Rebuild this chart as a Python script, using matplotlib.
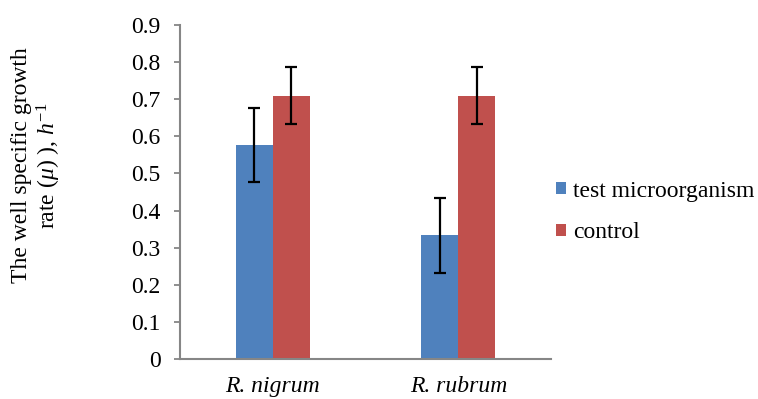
import matplotlib
matplotlib.use("Agg")
import matplotlib.pyplot as plt
import numpy as np

categories = ["R. nigrum", "R. rubrum"]
series_names = ["test microorganism", "control"]
test_vals = [0.577, 0.333]
test_err = [0.100, 0.100]
control_vals = [0.710, 0.710]
control_err = [0.076, 0.076]
yticks = [0, 0.1, 0.2, 0.3, 0.4, 0.5, 0.6, 0.7, 0.8, 0.9]
ytick_labels = ["0", "0.1", "0.2", "0.3", "0.4", "0.5", "0.6", "0.7", "0.8", "0.9"]

plt.rcParams['font.family'] = ['Liberation Serif', 'DejaVu Serif']
plt.rcParams['mathtext.fontset'] = 'custom'
plt.rcParams['mathtext.rm'] = 'Liberation Serif'
plt.rcParams['mathtext.it'] = 'Liberation Serif:italic'

FS = 17
fig = plt.figure(figsize=(7.58, 3.99), dpi=100)
ax = fig.add_axes([180/758, 40/399, 371/758, 334/399])

x = np.arange(len(categories))
w = 0.2
ekw = dict(ecolor='black', elinewidth=1.6, capsize=4, capthick=1.6)
ax.bar(x - w/2, test_vals, w, color='#4F81BD', label=series_names[0],
       yerr=test_err, error_kw=ekw, zorder=2)
ax.bar(x + w/2, control_vals, w, color='#C0504D', label=series_names[1],
       yerr=control_err, error_kw=ekw, zorder=2)

ax.set_xlim(-0.5, 1.5)
ax.set_ylim(0, 0.9)
ax.set_yticks(yticks)
ax.set_yticklabels(ytick_labels, fontsize=FS)
ax.set_xticks(x)
ax.set_xticklabels(categories, fontsize=FS, style='italic')
ax.tick_params(axis='x', length=0, pad=12.5)
ax.tick_params(axis='y', length=4, width=1.3, color='#868686', pad=10)
for s in ['top', 'right']:
    ax.spines[s].set_visible(False)
for s in ['left', 'bottom']:
    ax.spines[s].set_color('#868686')
    ax.spines[s].set_linewidth(1.5)

fig.text(37/758, 0.585, "The well specific growth\nrate ($\\mathit{\\mu}$) ), $\\mathit{h}^{-1}$",
         rotation=90, ha='center', va='center', fontsize=FS, linespacing=1.1)

fig.legend(loc='center left', bbox_to_anchor=(556/758, 0.469), frameon=False,
           fontsize=FS, handlelength=0.42, handleheight=0.42, handletextpad=0.3,
           labelspacing=0.87, borderpad=0, borderaxespad=0)

fig.savefig("out.png", dpi=100)
